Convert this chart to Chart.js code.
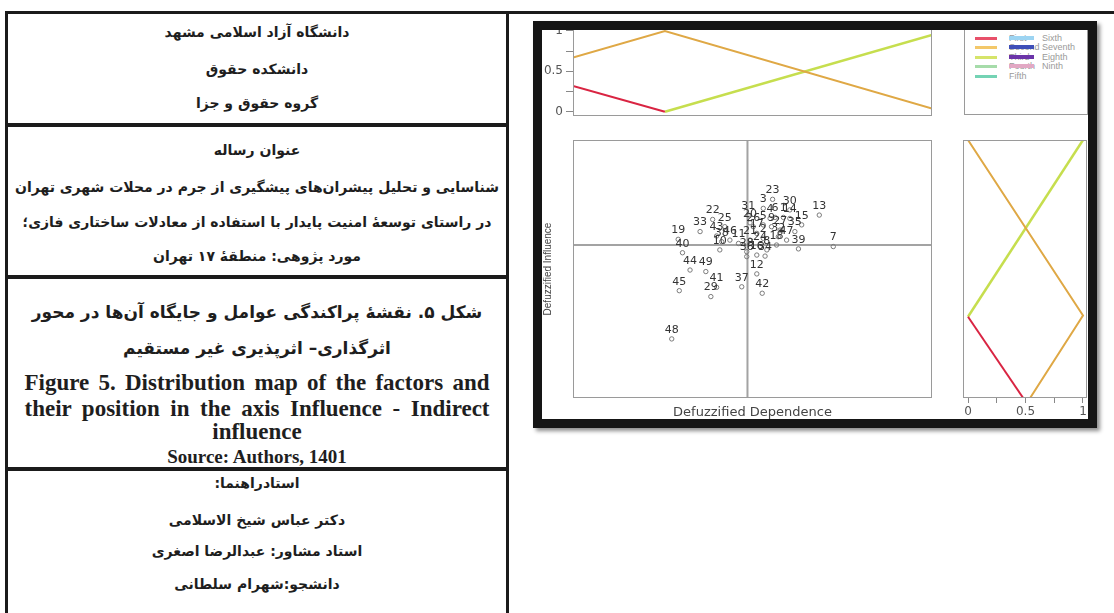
<!DOCTYPE html>
<html>
<head>
<meta charset="utf-8">
<script src="https://cdn.jsdelivr.net/npm/chart.js@4.4.0/dist/chart.umd.min.js"></script>
<style>
body{margin:0;background:#fff;width:1114px;height:613px;position:relative;overflow:hidden}
.bar{position:absolute;background:#1b1b1b}
.ln{position:absolute;left:-100px;width:714px;text-align:center;white-space:nowrap;color:#1e1e1e}
.ln span{display:inline-block}
.fa{direction:rtl;font:bold 14px "DejaVu Sans";height:20px;line-height:20px}
.fa17{direction:rtl;font:bold 17px "DejaVu Sans";height:22px;line-height:22px}
.en{font:bold 23px "Liberation Serif";height:26px;line-height:26px}
.en2{font:bold 19px "Liberation Serif";height:20px;line-height:20px}
#frame{position:absolute;left:533px;top:21px;width:564px;height:407px;box-sizing:border-box;border:9px solid #151515;background:#fff;overflow:hidden;box-shadow:3px 3px 4px rgba(0,0,0,.45)}
#frame canvas{position:absolute}
#legend{position:absolute;left:422px;top:-4px;width:124px;height:89px;box-sizing:border-box;border:1px solid #9a9a9a;font:9px "Liberation Sans";color:#9a9a9a}
#legend div{position:absolute}
</style>
</head>
<body>
<div class="bar" style="left:5px;top:11px;width:1109px;height:3px"></div>
<div class="bar" style="left:5px;top:11px;width:3px;height:602px"></div>
<div class="bar" style="left:506px;top:11px;width:3px;height:602px"></div>
<div class="bar" style="left:5px;top:123px;width:504px;height:4px"></div>
<div class="bar" style="left:5px;top:275px;width:504px;height:4px"></div>
<div class="bar" style="left:5px;top:467px;width:504px;height:4px"></div>
<div style="position:absolute;left:8px;top:14px;width:498px;height:599px;overflow:hidden">
<div style="position:absolute;left:-8px;top:-14px;width:1114px;height:613px">

<div class="ln fa" style="top:22px"><span>دانشگاه آزاد اسلامی مشهد</span></div>
<div class="ln fa" style="top:59px"><span>دانشکده حقوق</span></div>
<div class="ln fa" style="top:93px"><span>گروه حقوق و جزا</span></div>

<div class="ln fa" style="top:140px"><span>عنوان رساله</span></div>
<div class="ln fa" style="top:177px"><span>شناسایی و تحلیل پیشران‌های پیشگیری از جرم در محلات شهری تهران</span></div>
<div class="ln fa" style="top:212px"><span>در راستای توسعهٔ امنیت پایدار با استفاده از معادلات ساختاری فازی؛</span></div>
<div class="ln fa" style="top:246px"><span>مورد پژوهی: منطقهٔ ۱۷ تهران</span></div>

<div class="ln fa17" style="top:301px"><span>شکل ۵. نقشهٔ پراکندگی عوامل و جایگاه آن‌ها در محور</span></div>
<div class="ln fa17" style="top:337px"><span>اثرگذاری– اثرپذیری غیر مستقیم</span></div>
<div class="ln en" style="top:370px" data-j="465"><span>Figure 5. Distribution map of the factors and</span></div>
<div class="ln en" style="top:396px" data-j="465"><span>their position in the axis Influence - Indirect</span></div>
<div class="ln en" style="top:419px"><span>influence</span></div>
<div class="ln en2" style="top:447px"><span>Source: Authors, 1401</span></div>

<div class="ln fa" style="top:473px"><span>استادراهنما:</span></div>
<div class="ln fa" style="top:510px"><span>دکتر عباس شیخ الاسلامی</span></div>
<div class="ln fa" style="top:541px"><span>استاد مشاور: عبدالرضا اصغری</span></div>
<div class="ln fa" style="top:574px"><span>دانشجو:شهرام سلطانی</span></div>
</div>
</div>

<div id="frame">
  <canvas id="topPanel" width="400" height="112" style="left:0;top:-16px"></canvas>
  <canvas id="mapPanel" width="400" height="303" style="left:0;top:90px"></canvas>
  <canvas id="sidePanel" width="146" height="310" style="left:412px;top:90px"></canvas>
  <div id="legend"></div>
</div>

<script>
// factor positions (defuzzified dependence / influence)
const factorIds  = [23, 3, 30, 13, 31, 6, 1, 14, 15, 22, 25, 33, 19, 40, 38, 11, 7, 39, 44, 49, 12, 45, 41, 29, 37, 42, 48, 20, 26, 5, 9, 27, 35, 17, 32, 21, 2, 18, 24, 8, 28, 16, 34, 10, 36, 43, 46, 47, 4];
const dependence = [55.6, 53.0, 60.4, 68.6, 48.8, 56.3, 58.6, 60.4, 63.7, 38.9, 42.3, 35.4, 29.3, 30.5, 41.4, 46.1, 72.5, 62.8, 32.6, 37.0, 51.2, 29.6, 40.0, 38.4, 47.0, 52.7, 27.5, 49.3, 50.2, 53.0, 55.3, 57.7, 61.8, 51.2, 57.2, 49.3, 53.0, 56.7, 52.1, 54.0, 48.4, 51.2, 53.5, 40.9, 48.4, 40.0, 43.7, 59.5, 54.9];
const influence  = [77.0, 73.5, 72.9, 70.9, 70.9, 70.0, 70.0, 69.6, 67.1, 69.2, 66.4, 64.5, 61.5, 56.3, 60.6, 59.9, 58.7, 57.8, 49.6, 49.0, 48.1, 41.6, 42.9, 39.3, 43.1, 40.6, 22.9, 67.9, 66.4, 67.1, 66.4, 65.1, 64.5, 63.8, 62.5, 61.2, 61.9, 59.3, 58.7, 57.4, 56.7, 55.4, 55.0, 57.4, 54.8, 62.8, 61.2, 61.2, 69.6];
const splitDependence = 48.6;
const splitInfluence = 59.3;

// membership functions along dependence (top) and influence (right)
const topRedX = [0, 25.6],          topRedY = [0.32, 0];
const topOrangeX = [0, 25.6, 100],  topOrangeY = [0.67, 1, 0.04];
const topGreenX = [25.6, 100],      topGreenY = [0, 0.95];
const sideRedX = [0, 0.48],         sideRedY = [31.5, 0];
const sideOrangeX = [0, 1, 0.54],   sideOrangeY = [100, 32, 0];
const sideGreenX = [0, 1],          sideGreenY = [31.5, 100];

const memTicks = [0, 0.25, 0.5, 0.75, 1];
const memTickLabels = ['0', '', '0.5', '', '1'];

const legendCol1 = ['First', 'Second', 'Third', 'Fourth', 'Fifth'];
const legendCol2 = ['Sixth', 'Seventh', 'Eighth', 'Ninth'];
const legendColors1 = ['#e8506a', '#f3c86a', '#d6e46a', '#a6dcaa', '#74d3b4'];
const legendColors2 = ['#9cd4f2', '#3f4fb8', '#6b34a8', '#e2a8c4'];

const colRed = '#d92442', colOrange = '#dfa845', colGreen = '#c6de4e';

// justified caption lines
document.querySelectorAll('.ln[data-j]').forEach(el => {
  const span = el.firstElementChild;
  span.style.width = el.dataset.j + 'px';
  span.style.textAlign = 'justify';
  span.style.textAlignLast = 'justify';
});

Chart.defaults.font.family = '"DejaVu Sans", sans-serif';
Chart.defaults.color = '#555';

function lineSet(xs, ys, color, width) {
  return {
    data: xs.map((x, i) => ({ x: x, y: ys[i] })),
    showLine: true, borderColor: color, borderWidth: width || 2,
    pointRadius: 0, fill: false
  };
}

const boxPlugin = {
  id: 'box',
  afterDraw(chart) {
    const a = chart.chartArea, ctx = chart.ctx;
    ctx.save();
    ctx.strokeStyle = '#9a9a9a';
    ctx.lineWidth = 1;
    ctx.strokeRect(Math.round(a.left) + 0.5, Math.round(a.top) + 0.5,
      Math.round(a.right - a.left) - 1, Math.round(a.bottom - a.top) - 1);
    ctx.restore();
  }
};

const idPlugin = {
  id: 'ids',
  afterDatasetsDraw(chart) {
    const meta = chart.getDatasetMeta(0), ctx = chart.ctx;
    ctx.save();
    ctx.font = '11px "DejaVu Sans"';
    ctx.fillStyle = '#333';
    ctx.textAlign = 'center';
    ctx.textBaseline = 'middle';
    meta.data.forEach((pt, i) => ctx.fillText(String(factorIds[i]), pt.x, pt.y - 9));
    ctx.restore();
  }
};

const base = {
  responsive: false, animation: false,
  plugins: { legend: { display: false }, tooltip: { enabled: false } }
};

// top: membership over dependence
new Chart(document.getElementById('topPanel'), {
  type: 'scatter',
  data: { datasets: [
    lineSet(topRedX, topRedY, colRed),
    lineSet(topOrangeX, topOrangeY, colOrange),
    lineSet(topGreenX, topGreenY, colGreen, 2.5)
  ] },
  options: Object.assign({}, base, {
    layout: { padding: { left: 0, right: 10, top: 12.9, bottom: 8.9 } },
    scales: {
      x: { type: 'linear', display: false, min: 0, max: 100 },
      y: {
        type: 'linear', min: -0.05, max: 1.05,
        afterBuildTicks: s => { s.ticks = memTicks.map(v => ({ value: v })); },
        afterFit: s => { s.width = 31; },
        ticks: { callback: (v, i) => memTickLabels[i], autoSkip: false, font: { size: 12 }, color: '#555', padding: 3 },
        grid: { drawOnChartArea: false, tickLength: 7, tickColor: '#888' },
        border: { display: false }
      }
    }
  }),
  plugins: [boxPlugin]
});

// main map
new Chart(document.getElementById('mapPanel'), {
  type: 'scatter',
  data: { datasets: [
    {
      data: factorIds.map((id, i) => ({ x: dependence[i], y: influence[i] })),
      pointRadius: 2.2, pointBorderColor: '#7a7a7a', pointBackgroundColor: 'rgba(0,0,0,0)',
      pointBorderWidth: 1, order: 1
    },
    Object.assign(lineSet([splitDependence, splitDependence], [0, 100], '#a3a3a3', 2), { order: 2 }),
    Object.assign(lineSet([0, 100], [splitInfluence, splitInfluence], '#a3a3a3', 2), { order: 2 })
  ] },
  options: Object.assign({}, base, {
    layout: { padding: { left: 0, right: 10, top: 20, bottom: 0 } },
    scales: {
      x: {
        type: 'linear', min: 0, max: 100,
        ticks: { display: false }, grid: { display: false }, border: { display: false },
        title: { display: true, text: 'Defuzzified Dependence', font: { size: 13 }, color: '#444', padding: { top: 0, bottom: 3 } },
        afterFit: s => { s.height = 25; }
      },
      y: {
        type: 'linear', min: 0, max: 100,
        ticks: { display: false }, grid: { display: false }, border: { display: false },
        title: { display: true, text: 'Defuzzified Influence', font: { family: '"Liberation Sans"', size: 10 }, color: '#444', padding: 0 },
        afterFit: s => { s.width = 31; }
      }
    }
  }),
  plugins: [boxPlugin, idPlugin]
});

// right: membership over influence
new Chart(document.getElementById('sidePanel'), {
  type: 'scatter',
  data: { datasets: [
    lineSet(sideRedX, sideRedY, colRed),
    lineSet(sideOrangeX, sideOrangeY, colOrange),
    lineSet(sideGreenX, sideGreenY, colGreen, 2.5)
  ] },
  options: Object.assign({}, base, {
    layout: { padding: { left: 9.4, right: 12.4, top: 20, bottom: 0 } },
    scales: {
      x: {
        type: 'linear', min: -0.04, max: 1.04,
        afterBuildTicks: s => { s.ticks = memTicks.map(v => ({ value: v })); },
        afterFit: s => { s.height = 32; },
        ticks: { callback: (v, i) => memTickLabels[i], autoSkip: false, maxRotation: 0, font: { size: 12 }, color: '#555', padding: 2 },
        grid: { drawOnChartArea: false, tickLength: 5, tickColor: '#888' },
        border: { display: false }
      },
      y: { type: 'linear', display: false, min: 0, max: 100 }
    }
  }),
  plugins: [boxPlugin]
});

// legend box
const legend = document.getElementById('legend');
const rowY = [11, 20, 30, 39, 49];
legendCol1.forEach((name, i) => {
  legend.insertAdjacentHTML('beforeend',
    `<div style="left:10px;top:${rowY[i] - 1}px;width:22px;height:3px;background:${legendColors1[i]}"></div>` +
    `<div style="left:44px;top:${rowY[i] - 5}px;line-height:10px">${name}</div>`);
});
legendCol2.forEach((name, i) => {
  legend.insertAdjacentHTML('beforeend',
    `<div style="left:44px;top:${rowY[i] - 2}px;width:25px;height:4px;background:${legendColors2[i]}"></div>` +
    `<div style="left:77px;top:${rowY[i] - 5}px;line-height:10px">${name}</div>`);
});
</script>
</body>
</html>
